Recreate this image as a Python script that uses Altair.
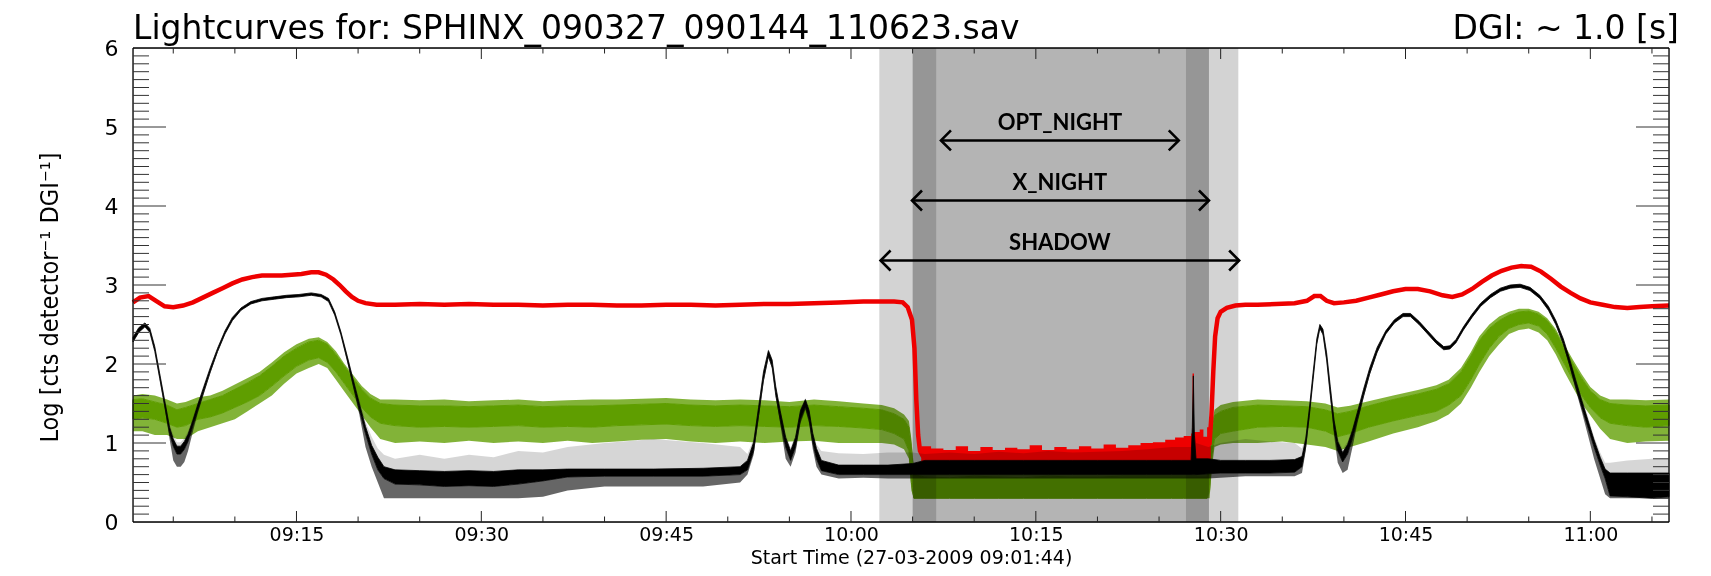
import altair as alt
import pandas as pd

# ---------------- data ----------------
# time axis: minutes after 09:00 on 27-03-2009 ; values: log counts
t_start_min, t_end_min = 1.7333, 126.3833          # 09:01:44 .. 11:06:23

# red channel (thick line)
red_t = [1.73, 2.3, 3.0, 3.6, 4.3, 5.0, 5.8, 6.6, 7.4, 8.2, 9.0, 9.8, 10.6, 11.4, 12.2, 13.0,
         13.8, 14.6, 15.4, 16.2, 16.8, 17.4, 18.0, 18.5, 19.0, 19.5, 20.0, 20.6, 21.5, 23, 25,
         27, 29, 31, 33, 35, 37, 39, 41, 43, 45, 47, 49, 51, 53, 55, 57, 59, 61, 62.5, 63.5,
         64.2, 64.6, 64.95, 65.15, 65.3, 65.45, 65.6, 65.8, 70, 75, 80, 84, 86, 88, 89.1,
         89.25, 89.4, 89.55, 89.75, 90.0, 90.5, 91.2, 92, 93, 94.5, 96, 97, 97.6, 98.1, 98.6,
         99.2, 100, 101, 102, 103, 104, 105, 106, 107, 108, 108.8, 109.6, 110.4, 111.2, 112,
         112.8, 113.6, 114.4, 115.2, 116, 116.8, 117.6, 118.4, 119.2, 120, 121, 122, 123, 124,
         125, 126.38]
red_v = [2.78, 2.84, 2.86, 2.80, 2.73, 2.72, 2.74, 2.78, 2.84, 2.90, 2.96, 3.02, 3.07, 3.10,
         3.12, 3.12, 3.12, 3.13, 3.14, 3.16, 3.16, 3.13, 3.07, 3.00, 2.92, 2.85, 2.80, 2.77,
         2.75, 2.75, 2.76, 2.75, 2.76, 2.75, 2.75, 2.74, 2.75, 2.75, 2.74, 2.74, 2.75, 2.75,
         2.74, 2.75, 2.76, 2.76, 2.77, 2.78, 2.79, 2.79, 2.79, 2.78, 2.72, 2.56, 2.20, 1.55,
         1.10, 0.90, 0.84, 0.83, 0.84, 0.85, 0.88, 0.92, 0.98, 1.00, 1.35, 1.90, 2.35, 2.58,
         2.66, 2.71, 2.74, 2.75, 2.75, 2.76, 2.77, 2.80, 2.86, 2.86, 2.80, 2.77, 2.78, 2.80,
         2.84, 2.88, 2.92, 2.95, 2.95, 2.92, 2.87, 2.85, 2.88, 2.95, 3.04, 3.12, 3.18, 3.22,
         3.24, 3.23, 3.17, 3.08, 2.98, 2.90, 2.83, 2.78, 2.75, 2.72, 2.71, 2.72, 2.73, 2.74]

# red channel during the night: noisy envelope
redn_t = [65.7, 66.5, 67.5, 68.5, 69.5, 70.5, 71.5, 72.5, 73.5, 74.5, 75.5, 76.5, 77.5, 78.5,
          79.5, 80.5, 81.5, 82.5, 83.5, 84.5, 85.5, 86.3, 87.0, 87.6, 87.72, 87.84, 88.3, 88.6,
          88.9, 89.2]
redn_lo = [0.76] * len(redn_t)
redn_hi = [0.96, 0.93, 0.91, 0.96, 0.90, 0.95, 0.91, 0.94, 0.92, 0.97, 0.91, 0.95, 0.92, 0.96,
           0.93, 0.98, 0.94, 0.97, 1.00, 1.01, 1.04, 1.07, 1.09, 1.12, 1.88, 1.14, 1.17, 1.08,
           1.20, 1.12]

# green channel: dense band (lo..hi) and sparse spikes (slo..shi)
green_t = [1.73, 2.5, 3.5, 4.5, 5.3, 6.0, 7.0, 8.0, 9.0, 10.0, 11.0, 12.0, 13.0, 14.0, 15.0,
           16.0, 16.8, 17.5, 18.2, 18.9, 19.6, 20.3, 21.0, 21.8, 23, 25, 27, 29, 31, 33, 35,
           37, 39, 41, 43, 45, 47, 49, 51, 53, 55, 57, 59, 61, 62.5, 63.5, 64.3, 64.7, 64.9,
           65.1, 66, 68, 70, 72, 74, 76, 78, 80, 82, 84, 86, 87, 88, 88.9, 89.1, 89.3, 89.5,
           90, 91, 93, 95, 97, 98.5, 99.5, 100.5, 102, 104, 106, 107.5, 108.5, 109.5, 110.3,
           111.0, 111.8, 112.6, 113.4, 114.2, 115.0, 115.8, 116.5, 117.2, 117.9, 118.6, 119.3,
           120.0, 120.8, 121.6, 123.0, 124.5, 126.38]
green_lo = [1.30, 1.32, 1.30, 1.25, 1.20, 1.22, 1.30, 1.33, 1.38, 1.45, 1.52, 1.60, 1.72, 1.85,
            1.97, 2.05, 2.08, 2.02, 1.90, 1.75, 1.60, 1.45, 1.33, 1.25, 1.22, 1.20, 1.21, 1.20,
            1.21, 1.22, 1.20, 1.21, 1.20, 1.22, 1.23, 1.24, 1.22, 1.21, 1.22, 1.21, 1.20, 1.22,
            1.21, 1.19, 1.17, 1.12, 1.05, 0.90, 0.50, 0.30, 0.30, 0.30, 0.30, 0.30, 0.30, 0.30,
            0.30, 0.30, 0.30, 0.30, 0.30, 0.30, 0.30, 0.30, 0.40, 0.85, 1.05, 1.12, 1.15, 1.20,
            1.21, 1.20, 1.15, 1.08, 1.12, 1.20, 1.28, 1.35, 1.40, 1.48, 1.60, 1.80, 2.00, 2.20,
            2.35, 2.45, 2.50, 2.52, 2.48, 2.38, 2.20, 2.00, 1.80, 1.60, 1.45, 1.32, 1.25, 1.22,
            1.20, 1.22]
green_hi = [1.55, 1.56, 1.52, 1.48, 1.42, 1.45, 1.50, 1.55, 1.60, 1.68, 1.76, 1.85, 1.97, 2.10,
            2.20, 2.28, 2.30, 2.25, 2.12, 1.97, 1.82, 1.68, 1.57, 1.50, 1.48, 1.47, 1.47, 1.46,
            1.47, 1.48, 1.46, 1.47, 1.47, 1.48, 1.49, 1.50, 1.48, 1.47, 1.48, 1.47, 1.46, 1.48,
            1.46, 1.44, 1.42, 1.37, 1.30, 1.20, 0.95, 0.60, 0.57, 0.56, 0.58, 0.57, 0.56, 0.58,
            0.57, 0.57, 0.58, 0.58, 0.58, 0.58, 0.58, 0.58, 0.80, 1.15, 1.35, 1.40, 1.45, 1.48,
            1.47, 1.46, 1.42, 1.37, 1.40, 1.47, 1.55, 1.62, 1.68, 1.75, 1.90, 2.10, 2.30, 2.45,
            2.55, 2.62, 2.66, 2.67, 2.63, 2.55, 2.40, 2.20, 2.00, 1.82, 1.66, 1.55, 1.50, 1.48,
            1.47, 1.48]
green_slo = [1.15, 1.15, 1.10, 1.10, 1.05, 1.05, 1.15, 1.20, 1.25, 1.30, 1.40, 1.50, 1.60, 1.75,
             1.88, 1.95, 2.00, 1.95, 1.80, 1.65, 1.50, 1.35, 1.20, 1.05, 1.00, 1.02, 1.00, 1.03,
             1.00, 1.02, 1.00, 1.03, 1.00, 1.02, 1.04, 1.05, 1.02, 1.00, 1.02, 1.00, 1.02, 1.03,
             1.00, 1.00, 1.00, 0.98, 0.92, 0.80, 0.40, 0.30, 0.30, 0.30, 0.30, 0.30, 0.30, 0.30,
             0.30, 0.30, 0.30, 0.30, 0.30, 0.30, 0.30, 0.30, 0.30, 0.70, 0.95, 0.98, 1.00, 1.00,
             1.02, 0.98, 0.95, 0.90, 0.95, 1.02, 1.12, 1.20, 1.28, 1.36, 1.50, 1.70, 1.90, 2.10,
             2.25, 2.38, 2.43, 2.45, 2.40, 2.30, 2.12, 1.90, 1.70, 1.50, 1.35, 1.18, 1.05, 1.00,
             1.02, 1.03]
green_shi = [1.60, 1.62, 1.60, 1.55, 1.50, 1.52, 1.58, 1.60, 1.66, 1.74, 1.82, 1.90, 2.02, 2.15,
             2.25, 2.32, 2.34, 2.28, 2.16, 2.00, 1.86, 1.72, 1.62, 1.55, 1.55, 1.54, 1.55, 1.53,
             1.54, 1.55, 1.53, 1.54, 1.55, 1.55, 1.56, 1.57, 1.55, 1.54, 1.55, 1.54, 1.52, 1.55,
             1.53, 1.50, 1.48, 1.44, 1.36, 1.28, 1.05, 0.70, 0.62, 0.63, 0.62, 0.64, 0.62, 0.63,
             0.65, 0.66, 0.70, 0.72, 0.78, 0.85, 0.85, 0.80, 0.90, 1.25, 1.42, 1.48, 1.52, 1.55,
             1.54, 1.53, 1.50, 1.45, 1.47, 1.53, 1.60, 1.67, 1.73, 1.80, 1.95, 2.15, 2.35, 2.50,
             2.60, 2.66, 2.70, 2.70, 2.66, 2.58, 2.44, 2.24, 2.05, 1.87, 1.71, 1.60, 1.55, 1.55,
             1.54, 1.55]

# black channel: dense band (lo..hi) and sparse spikes (slo..shi)
black_t = [1.73, 2.2, 2.7, 3.1, 3.5, 3.9, 4.3, 4.7, 5.0, 5.3, 5.6, 5.9, 6.2, 6.6, 7.0, 7.5, 8.0,
           8.6, 9.2, 9.8, 10.5, 11.3, 12.2, 13.2, 14.2, 15.2, 16.2, 17.0, 17.6, 18.1, 18.6,
           19.1, 19.6, 20.1, 20.6, 21.1, 21.6, 22.1, 23, 25, 27, 29, 31, 33, 35, 37, 40, 44, 48,
           51, 51.6, 52.1, 52.5, 52.9, 53.3, 53.6, 53.9, 54.25, 54.7, 55.1, 55.5, 55.9, 56.3,
           56.6, 56.9, 57.2, 57.6, 59, 61, 63, 65, 66, 68, 70, 72, 74, 76, 78, 80, 82, 84, 86,
           87.6, 87.7, 87.78, 87.86, 88.0, 89.0, 90, 92, 94, 96, 96.6, 96.9, 97.2, 97.5, 97.8,
           98.05, 98.3, 98.6, 98.9, 99.2, 99.5, 99.9, 100.3, 100.7, 101.1, 101.6, 102.1, 102.7,
           103.4, 104.1, 104.8, 105.4, 106.1, 106.8, 107.5, 108.1, 108.6, 109.1, 109.7, 110.4,
           111.1, 111.9, 112.7, 113.5, 114.3, 115.1, 115.9, 116.6, 117.2, 117.8, 118.3, 118.8,
           119.3, 119.8, 120.3, 120.8, 121.2, 121.6, 123, 125, 126.38]
black_lo = [2.28, 2.40, 2.47, 2.40, 2.16, 1.82, 1.47, 1.12, 0.96, 0.86, 0.86, 0.92, 1.02, 1.22,
            1.42, 1.66, 1.90, 2.16, 2.38, 2.55, 2.68, 2.76, 2.80, 2.82, 2.84, 2.85, 2.87, 2.85,
            2.79, 2.62, 2.37, 2.06, 1.74, 1.42, 1.12, 0.86, 0.66, 0.55, 0.48, 0.47, 0.45, 0.46,
            0.45, 0.48, 0.52, 0.57, 0.58, 0.58, 0.58, 0.60, 0.66, 0.90, 1.35, 1.80, 2.10, 1.96,
            1.60, 1.30, 0.95, 0.78, 0.95, 1.30, 1.46, 1.30, 1.00, 0.80, 0.65, 0.60, 0.60, 0.60,
            0.60, 0.60, 0.60, 0.60, 0.60, 0.60, 0.60, 0.60, 0.60, 0.60, 0.60, 0.60, 0.60, 0.60,
            0.60, 0.60, 0.60, 0.61, 0.62, 0.62, 0.62, 0.63, 0.70, 0.95, 1.35, 1.80, 2.25, 2.45,
            2.38, 2.05, 1.60, 1.18, 0.90, 0.76, 0.86, 1.06, 1.30, 1.60, 1.88, 2.15, 2.38, 2.52,
            2.60, 2.60, 2.50, 2.38, 2.26, 2.18, 2.19, 2.27, 2.43, 2.59, 2.73, 2.84, 2.92, 2.96,
            2.97, 2.93, 2.83, 2.68, 2.50, 2.26, 2.00, 1.72, 1.45, 1.20, 0.95, 0.72, 0.55, 0.33,
            0.32, 0.30, 0.32]
black_hi = [2.34, 2.46, 2.52, 2.45, 2.22, 1.88, 1.54, 1.20, 1.05, 0.96, 0.96, 1.02, 1.11, 1.29,
            1.49, 1.72, 1.95, 2.20, 2.42, 2.59, 2.71, 2.79, 2.83, 2.85, 2.87, 2.88, 2.90, 2.88,
            2.83, 2.66, 2.41, 2.11, 1.80, 1.50, 1.21, 0.97, 0.82, 0.70, 0.66, 0.65, 0.64, 0.65,
            0.64, 0.66, 0.66, 0.67, 0.67, 0.67, 0.68, 0.70, 0.78, 1.01, 1.45, 1.90, 2.17, 2.05,
            1.71, 1.41, 1.07, 0.90, 1.07, 1.41, 1.55, 1.41, 1.12, 0.93, 0.78, 0.72, 0.72, 0.72,
            0.74, 0.78, 0.78, 0.78, 0.78, 0.78, 0.78, 0.78, 0.78, 0.78, 0.78, 0.78, 0.78, 1.20,
            1.85, 1.10, 0.80, 0.80, 0.78, 0.78, 0.78, 0.79, 0.83, 1.05, 1.44, 1.89, 2.32, 2.50,
            2.44, 2.14, 1.71, 1.29, 1.02, 0.88, 0.98, 1.16, 1.39, 1.68, 1.95, 2.21, 2.42, 2.56,
            2.64, 2.64, 2.54, 2.42, 2.30, 2.22, 2.23, 2.31, 2.47, 2.63, 2.77, 2.88, 2.96, 3.00,
            3.01, 2.97, 2.87, 2.73, 2.55, 2.32, 2.07, 1.80, 1.54, 1.29, 1.04, 0.82, 0.67, 0.62,
            0.62, 0.62, 0.62]
black_slo = [2.28, 2.40, 2.47, 2.40, 2.16, 1.80, 1.45, 1.05, 0.78, 0.70, 0.70, 0.76, 0.90, 1.15,
             1.38, 1.63, 1.88, 2.15, 2.38, 2.55, 2.68, 2.76, 2.80, 2.82, 2.84, 2.85, 2.87, 2.85,
             2.79, 2.62, 2.37, 2.04, 1.70, 1.36, 0.95, 0.70, 0.50, 0.30, 0.30, 0.30, 0.30, 0.30,
             0.30, 0.30, 0.32, 0.40, 0.45, 0.45, 0.45, 0.50, 0.60, 0.85, 1.30, 1.76, 2.08, 1.94,
             1.58, 1.25, 0.80, 0.70, 0.88, 1.25, 1.42, 1.25, 0.92, 0.70, 0.60, 0.55, 0.56, 0.55,
             0.55, 0.55, 0.55, 0.55, 0.55, 0.55, 0.55, 0.55, 0.55, 0.55, 0.55, 0.55, 0.55, 0.55,
             0.55, 0.55, 0.55, 0.55, 0.56, 0.58, 0.58, 0.58, 0.62, 0.90, 1.32, 1.78, 2.24, 2.44,
             2.36, 2.03, 1.57, 1.10, 0.75, 0.62, 0.66, 0.95, 1.25, 1.57, 1.86, 2.14, 2.38, 2.52,
             2.60, 2.60, 2.50, 2.38, 2.26, 2.18, 2.19, 2.27, 2.43, 2.59, 2.73, 2.84, 2.92, 2.96,
             2.97, 2.93, 2.83, 2.68, 2.49, 2.24, 1.97, 1.68, 1.40, 1.10, 0.80, 0.55, 0.35, 0.30,
             0.30, 0.30, 0.30]
black_shi = [2.34, 2.46, 2.52, 2.45, 2.22, 1.90, 1.57, 1.24, 1.10, 1.01, 1.01, 1.06, 1.15, 1.33,
             1.52, 1.75, 1.97, 2.21, 2.42, 2.59, 2.71, 2.79, 2.83, 2.85, 2.87, 2.88, 2.90, 2.88,
             2.83, 2.66, 2.41, 2.13, 1.83, 1.55, 1.27, 1.08, 0.93, 0.85, 0.80, 0.85, 0.80, 0.85,
             0.82, 0.90, 0.88, 0.95, 1.00, 1.05, 1.00, 0.95, 0.86, 1.05, 1.49, 1.93, 2.19, 2.07,
             1.73, 1.45, 1.11, 0.94, 1.10, 1.44, 1.57, 1.44, 1.15, 0.98, 0.90, 0.87, 0.86, 0.88,
             0.88, 0.86, 0.88, 0.86, 0.89, 0.87, 0.90, 0.88, 0.89, 0.90, 0.92, 0.95, 0.95, 1.30,
             1.88, 1.20, 1.00, 0.95, 1.00, 1.05, 1.02, 1.00, 0.93, 1.09, 1.47, 1.91, 2.33, 2.51,
             2.45, 2.16, 1.73, 1.33, 1.06, 0.92, 1.02, 1.20, 1.42, 1.71, 1.97, 2.22, 2.42, 2.56,
             2.64, 2.64, 2.54, 2.42, 2.30, 2.22, 2.23, 2.31, 2.47, 2.63, 2.77, 2.88, 2.96, 3.00,
             3.01, 2.97, 2.87, 2.73, 2.56, 2.34, 2.10, 1.84, 1.58, 1.34, 1.08, 0.88, 0.75, 0.75,
             0.78, 0.80, 0.80]

# eclipse intervals (minutes after 09:00)
shadow = (62.30, 91.43)
x_night = (65.00, 89.05)
opt_night = (66.93, 87.17)

# annotation arrows: label, start, end, arrow level, label level
arrow_names = ["OPT_NIGHT", "X_NIGHT", "SHADOW"]
arrow_t0 = [67.3, 64.95, 62.4]
arrow_t1 = [86.6, 89.05, 91.5]
arrow_y = [4.83, 4.07, 3.31]
label_y = [5.05, 4.29, 3.53]
label_t = 76.95

# axis ticks (minutes after 09:00) and y tick levels
x_major = [15, 30, 45, 60, 75, 90, 105, 120]
x_minor = [5, 10, 20, 25, 35, 40, 50, 55, 65, 70, 80, 85, 95, 100, 110, 115, 125]
y_major = [1, 2, 3, 4, 5]
y_minor = [round(i * 0.1, 1) for i in range(1, 60) if i % 10]

title_left = "Lightcurves for: SPHINX_090327_090144_110623.sav"
title_right = "DGI: ~  1.0 [s]"

# ---------------- helpers ----------------
BASE = pd.Timestamp("2009-03-27 09:00:00")


def tt(mins):
    return (BASE + pd.to_timedelta(pd.Series(mins, dtype=float), unit="m")).dt.round("s")


def dt(mins):
    s = int(round((mins + 540) * 60))          # seconds after midnight
    return alt.DateTime(year=2009, month=3, date=27, hours=s // 3600,
                        minutes=(s % 3600) // 60, seconds=s % 60)


W, H = 1536, 474
GREEN, RED = "#5f9e00", "#ee0000"
FONT = "DejaVu Sans"

xs = alt.Scale(domain=[dt(t_start_min), dt(t_end_min)], nice=False)
ys = alt.Scale(domain=[0, 6], nice=False, zero=False)

x_axis = alt.Axis(values=[dt(m) for m in x_major], format="%H:%M", labelFont=FONT,
                  labelFontSize=19, labelColor="black", labelPadding=3, ticks=False,
                  tickSize=0, domain=False, grid=False, labelFlush=False, labelOverlap=False,
                  title="Start Time (27-03-2009 09:01:44)", titleFont=FONT, titleFontSize=19,
                  titleFontWeight="normal", titleColor="black", titleX=778, titleY=41,
                  titleAlign="center", titleBaseline="alphabetic", zindex=1)
y_axis = alt.Axis(values=[0, 1, 2, 3, 4, 5, 6], format="d", labelFont=FONT, labelFontSize=22,
                  labelColor="black", labelPadding=15, ticks=False, tickSize=0, domain=False,
                  grid=False, labelFlush=False,
                  title="Log [cts detector\u207b\u00b9 DGI\u207b\u00b9]",
                  titleFont="Liberation Sans Narrow, DejaVu Sans Condensed, Liberation Sans",
                  titleFontSize=25, titleFontWeight="normal", titleColor="black",
                  titleAngle=270, titleX=-84, titleY=249, titleAlign="center",
                  titleBaseline="middle", zindex=1)


def X(f="t"):
    return alt.X(f"{f}:T", scale=xs, axis=x_axis)


def Y(f):
    return alt.Y(f"{f}:Q", scale=ys, axis=y_axis)


# ---------------- tables ----------------
green_df = pd.DataFrame({"t": tt(green_t), "lo": green_lo, "hi": green_hi,
                         "slo": green_slo, "shi": green_shi})
black_df = pd.DataFrame({"t": tt(black_t), "lo": black_lo, "hi": black_hi,
                         "slo": black_slo, "shi": black_shi})
red_df = pd.DataFrame({"t": tt(red_t), "v": red_v})
redn_df = pd.DataFrame({"t": tt(redn_t), "lo": redn_lo, "hi": redn_hi})

seg_edges = [shadow[0], x_night[0], opt_night[0], opt_night[1], x_night[1], shadow[1]]
seg_cols = ["#d3d3d3", "#969696", "#b4b4b4", "#969696", "#d3d3d3"]
band_df = pd.DataFrame({"t": tt(seg_edges[:-1]), "t2": tt(seg_edges[1:]), "c": seg_cols})

arrow_df = pd.DataFrame({"name": arrow_names, "t": tt(arrow_t0), "t2": tt(arrow_t1),
                         "v": arrow_y})
head_df = pd.DataFrame({"t": tt(arrow_t0 + arrow_t1), "v": arrow_y + arrow_y,
                        "side": ["L"] * 3 + ["R"] * 3})
lab_df = pd.DataFrame({"name": arrow_names, "t": tt([label_t] * 3), "v": label_y})

xmaj_df = pd.DataFrame({"t": tt(x_major)})
xmin_df = pd.DataFrame({"t": tt(x_minor)})
ymaj_df = pd.DataFrame({"v": y_major})
ymin_df = pd.DataFrame({"v": y_minor})
frame_y = pd.DataFrame({"v": [0, 6]})
frame_x = pd.DataFrame({"t": tt([t_start_min, t_end_min])})

# ---------------- layers ----------------
layers = []
# green: sparse spikes below / above, then dense band
layers.append(alt.Chart(green_df).mark_area(color=GREEN, opacity=0.78).encode(
    x=X(), y=Y("slo"), y2="lo"))
layers.append(alt.Chart(green_df).mark_area(color=GREEN, opacity=0.78).encode(
    x=X(), y=Y("hi"), y2="shi"))
layers.append(alt.Chart(green_df).mark_area(color=GREEN, stroke=GREEN, strokeWidth=1).encode(
    x=X(), y=Y("lo"), y2="hi"))
# eclipse shading (darkens what lies beneath it)
layers.append(alt.Chart(band_df).mark_rect(blend="multiply").encode(
    x=X(), x2="t2", fill=alt.Fill("c:N", scale=None)))
# red
layers.append(alt.Chart(redn_df).mark_area(color=RED, interpolate="step-after").encode(
    x=X(), y=Y("lo"), y2="hi"))
layers.append(alt.Chart(red_df).mark_line(color=RED, strokeWidth=4.5).encode(
    x=X(), y=Y("v")))
# black: sparse spikes below (dense comb) / above (rare), then dense band
layers.append(alt.Chart(black_df).mark_area(color="black", opacity=0.6).encode(
    x=X(), y=Y("slo"), y2="lo"))
layers.append(alt.Chart(black_df).mark_area(color="black", opacity=0.16).encode(
    x=X(), y=Y("hi"), y2="shi"))
layers.append(alt.Chart(black_df).mark_area(color="black", stroke="black",
                                            strokeWidth=0.8).encode(
    x=X(), y=Y("lo"), y2="hi"))

# frame and inward ticks
layers.append(alt.Chart(frame_y).mark_rule(color="black", strokeWidth=1.3).encode(y=Y("v")))
layers.append(alt.Chart(frame_x).mark_rule(color="black", strokeWidth=1.3).encode(x=X()))
for df_, L in ((xmaj_df, 11), (xmin_df, 5.5)):
    layers.append(alt.Chart(df_).mark_rule(color="#222", strokeWidth=1).encode(
        x=X(), y=alt.value(H), y2=alt.value(H - L)))
    layers.append(alt.Chart(df_).mark_rule(color="#222", strokeWidth=1).encode(
        x=X(), y=alt.value(0), y2=alt.value(L)))
for df_, L in ((ymaj_df, 33), (ymin_df, 16)):
    layers.append(alt.Chart(df_).mark_rule(color="#333", strokeWidth=1).encode(
        y=Y("v"), x=alt.value(0), x2=alt.value(L)))
    layers.append(alt.Chart(df_).mark_rule(color="#333", strokeWidth=1).encode(
        y=Y("v"), x=alt.value(W - L), x2=alt.value(W)))

# arrows
layers.append(alt.Chart(arrow_df).mark_rule(color="black", strokeWidth=2.6).encode(
    x=X(), x2="t2", y=Y("v")))
layers.append(alt.Chart(head_df).mark_point(filled=False, size=400, strokeWidth=2.6,
                                            color="black", opacity=1).encode(
    x=X(), y=Y("v"),
    shape=alt.Shape("side:N", scale=alt.Scale(domain=["L", "R"],
                                              range=["M1,-1L0,0L1,1", "M-1,-1L0,0L-1,1"]),
                    legend=None)))
layers.append(alt.Chart(lab_df).mark_text(font="Lato", fontWeight="bold", fontSize=22,
                                          color="black", baseline="middle",
                                          align="center").encode(
    x=X(), y=Y("v"), text="name:N"))

# heading (two parts, as in the original)
layers.append(alt.Chart(pd.DataFrame({"s": [title_left]})).mark_text(
    font=FONT, fontSize=33, color="black", align="left", baseline="alphabetic").encode(
    x=alt.value(0), y=alt.value(-9), text="s:N"))
layers.append(alt.Chart(pd.DataFrame({"s": [title_right]})).mark_text(
    font=FONT, fontSize=33, color="black", align="right", baseline="alphabetic").encode(
    x=alt.value(1546), y=alt.value(-9), text="s:N"))

chart = alt.layer(*layers).properties(
    width=W, height=H,
    padding={"left": 125, "top": 40, "right": 34, "bottom": 46},
    autosize=alt.AutoSizeParams(type="none"),
).configure_view(strokeWidth=0).configure(background="white")

chart.save("out.html", embed_options={"renderer": "svg", "actions": False})
